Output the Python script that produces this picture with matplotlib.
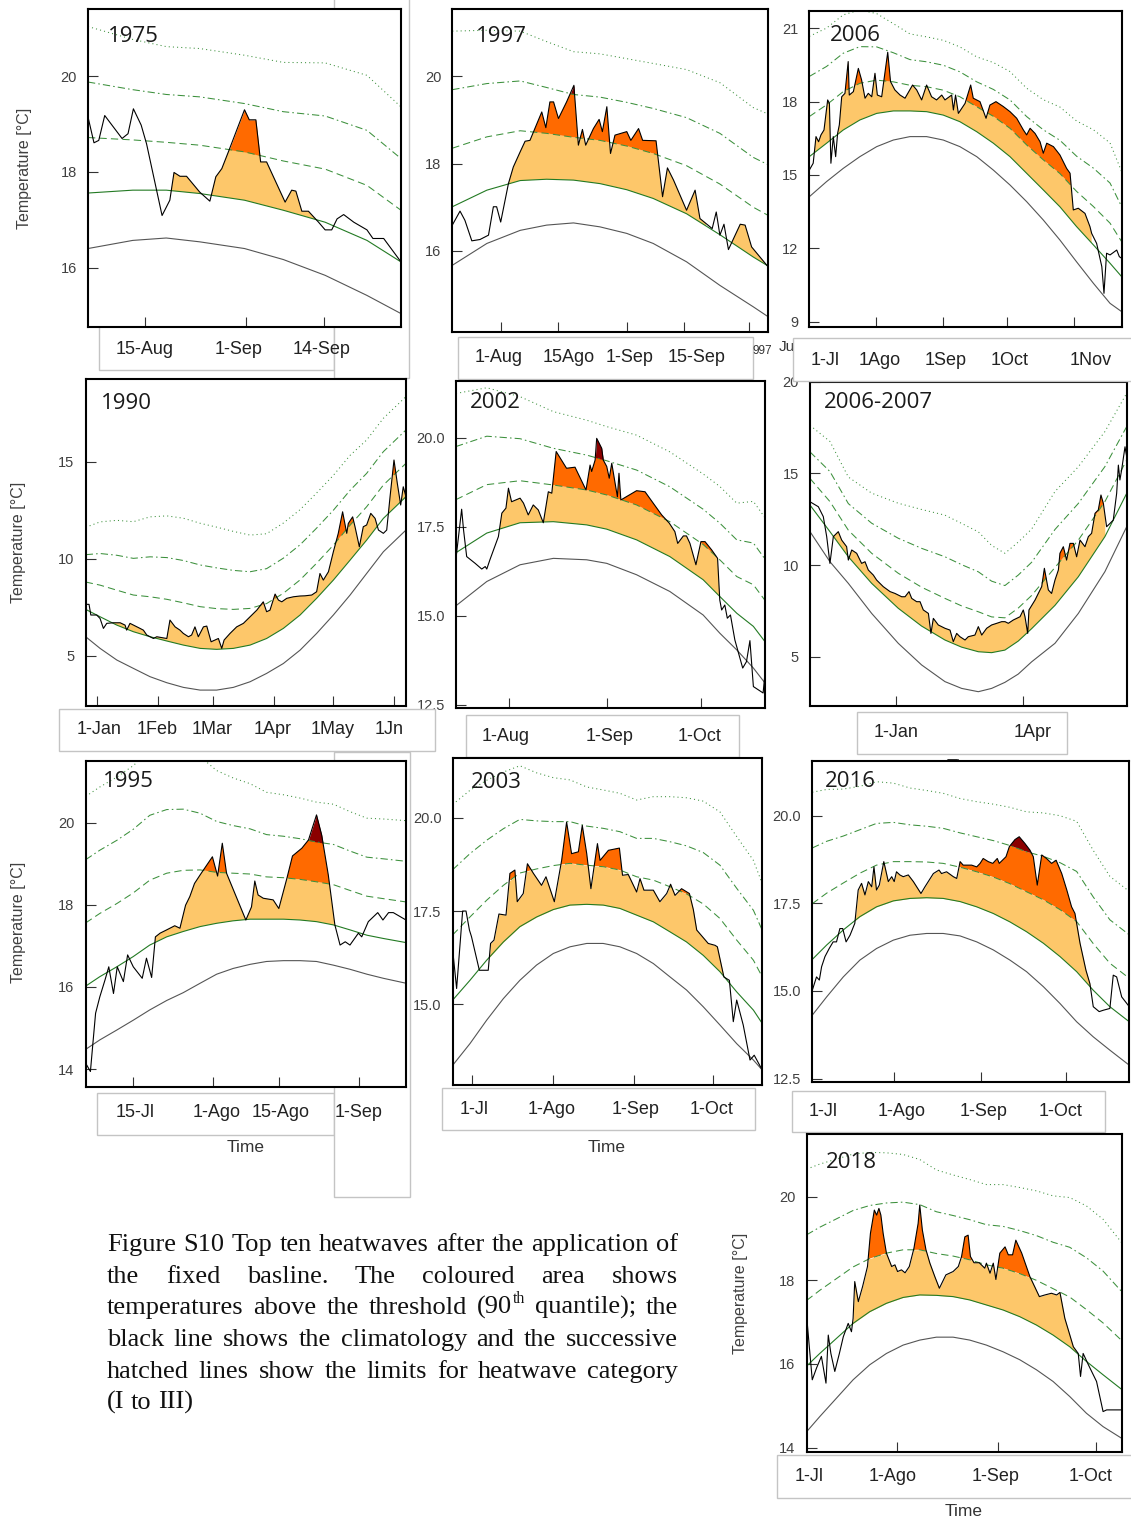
import numpy as np
import matplotlib
matplotlib.use("Agg")
import matplotlib.pyplot as plt
from matplotlib.patches import Rectangle

plt.rcParams["font.family"] = ["Liberation Sans", "DejaVu Sans"]

W, H = 1131, 1521

# ------------------------------------------------------------------ data
# days: day offsets (1975: from 1 Aug; 1990 / 2006-07: from 1 Jan; others: from 1 Jul)
# temp: daily sea temperature, clim: climatology, thresh: 90th percentile threshold

days_1975 = [4.5, 5.5, 6.3, 7.3, 10.2, 11.2, 12.1, 13.4, 14.3, 16.9, 18.2, 18.9, 19.9, 21.0, 23.2,
             24.9, 25.9, 26.9, 28.0, 30.7, 31.5, 32.6, 33.4, 34.4, 37.5, 38.6, 39.3, 40.3, 41.4,
             43.1, 44.2, 45.3, 46.2, 47.3, 49.0, 51.2, 52.2, 54.0, 56.9]
temp_1975 = [19.15, 18.61, 18.66, 19.18, 18.70, 18.80, 19.32, 18.98, 18.59, 17.09, 17.41, 17.99,
             17.91, 17.91, 17.58, 17.39, 17.90, 18.07, 18.42, 19.30, 19.09, 19.09, 18.21, 18.21,
             17.37, 17.62, 17.60, 17.18, 17.18, 16.95, 16.79, 16.79, 17.02, 17.11, 16.95, 16.79,
             16.61, 16.61, 16.12]
kdays_1975 = [4.5, 12.0, 17.6, 23.2, 30.7, 37.2, 44.2, 51.2, 56.9]
clim_1975 = [16.40, 16.57, 16.62, 16.54, 16.40, 16.17, 15.84, 15.42, 15.04]
thresh_1975 = [17.56, 17.62, 17.62, 17.55, 17.41, 17.20, 16.95, 16.57, 16.12]
events_1975 = [(18.0, 43.5)]
xticks_1975 = [14, 31, 44]
xlabels_1975 = ["15-Aug", "1-Sep", "14-Sep"]
yticks_1975 = [16, 18, 20]
ylabels_1975 = ["16", "18", "20"]

days_1997 = [19.1, 21.0, 22.2, 23.9, 25.9, 28.0, 29.2, 30.0, 31.0, 32.9, 34.1, 35.8, 37.0, 38.2,
             39.4, 41.1, 42.1, 43.1, 44.0, 45.2, 47.2, 49.0, 50.1, 51.1, 51.9, 53.8, 55.2, 56.0,
             57.1, 58.0, 59.1, 62.0, 63.0, 64.9, 65.9, 69.2, 70.8, 72.0, 73.5, 76.7, 78.8, 80.0,
             83.0, 84.0, 84.9, 85.9, 87.0, 89.9, 91.1, 92.7, 96.8]
temp_1997 = [16.59, 16.91, 16.70, 16.23, 16.26, 16.36, 17.01, 17.01, 16.66, 17.54, 17.92, 18.27,
             18.51, 18.53, 18.80, 19.18, 18.82, 19.41, 19.41, 19.03, 19.41, 19.79, 18.42, 18.78,
             18.42, 18.80, 19.01, 18.73, 19.30, 18.23, 18.65, 18.73, 18.53, 18.80, 18.53, 18.52,
             17.24, 17.90, 17.62, 16.93, 17.39, 16.74, 16.51, 16.89, 16.36, 16.61, 16.03, 16.61,
             16.59, 16.09, 15.63]
kdays_1997 = [19.1, 27.6, 35.8, 42.3, 48.9, 55.4, 62.0, 68.5, 76.7, 84.9, 93.1, 96.8]
clim_1997 = [15.67, 16.17, 16.47, 16.59, 16.64, 16.55, 16.40, 16.17, 15.75, 15.21, 14.72, 14.49]
thresh_1997 = [17.01, 17.39, 17.61, 17.64, 17.62, 17.54, 17.40, 17.20, 16.85, 16.37, 15.86, 15.65]
events_1997 = [(33.0, 81.5), (87.0, 96.8)]
xticks_1997 = [31, 45, 62, 76, 92]
xlabels_1997 = ["1-Aug", "15Ago", "1-Sep", "15-Sep"]
yticks_1997 = [16, 18, 20]
ylabels_1997 = ["16", "18", "20"]

days_2006 = [0.3, 2.1, 3.4, 4.6, 5.7, 7.1, 8.8, 9.6, 10.3, 11.4, 12.5, 13.4, 14.2, 15.3, 16.8,
             18.3, 18.8, 20.7, 23.0, 24.5, 26.1, 27.6, 29.2, 30.7, 31.8, 33.8, 36.6, 37.9, 39.9,
             42.3, 44.6, 48.1, 50.0, 52.3, 54.6, 56.9, 59.2, 61.6, 63.1, 66.2, 67.0, 68.0, 69.3,
             72.4, 75.0, 76.2, 79.3, 82.1, 83.9, 86.7, 90.1, 93.2, 96.3, 99.4, 100.9, 102.5,
             104.8, 107.1, 108.6, 110.2, 113.3, 116.3, 119.4, 121.0, 122.5, 124.8, 127.9, 130.2,
             131.0, 133.3, 135.7, 136.7, 137.9, 139.5, 142.6, 143.8, 144.9]
temp_2006 = [15.20, 15.48, 16.57, 16.36, 16.64, 16.84, 18.07, 17.93, 15.48, 16.57, 15.75, 16.70,
             17.05, 18.20, 18.34, 19.64, 18.27, 18.41, 19.36, 18.89, 18.14, 18.34, 18.20, 19.16,
             18.27, 18.20, 20.02, 18.82, 18.48, 18.27, 18.14, 18.68, 18.48, 18.07, 18.68, 18.20,
             18.07, 18.27, 18.07, 18.27, 17.66, 18.27, 17.52, 17.93, 18.68, 18.14, 18.00, 17.32,
             17.86, 18.00, 17.80, 17.59, 17.32, 16.84, 16.64, 16.91, 16.70, 16.36, 15.89, 16.30,
             16.16, 15.82, 15.27, 15.07, 13.57, 13.64, 13.43, 12.89, 12.61, 12.20, 11.25, 10.16,
             11.80, 11.73, 11.93, 11.66, 11.59]
kdays_2006 = [0.3, 8.3, 16.0, 23.7, 31.5, 39.2, 46.9, 54.6, 62.3, 70.0, 77.8, 85.5, 93.2, 100.9,
              108.6, 116.3, 124.0, 131.8, 139.5, 144.9]
clim_2006 = [14.11, 14.73, 15.27, 15.75, 16.16, 16.43, 16.57, 16.57, 16.43, 16.16, 15.75, 15.20,
             14.59, 13.91, 13.16, 12.34, 11.45, 10.57, 9.75, 9.41]
thresh_2006 = [15.75, 16.30, 16.84, 17.25, 17.52, 17.62, 17.62, 17.59, 17.45, 17.18, 16.77, 16.30,
               15.75, 15.07, 14.39, 13.70, 12.89, 12.14, 11.39, 10.84]
events_2006 = [(0.5, 131.0)]
xticks_2006 = [31, 62, 92, 123]
xlabels_2006 = ["1-Jl", "1Ago", "1Sep", "1Oct", "1Nov"]
yticks_2006 = [9, 12, 15, 18, 21]
ylabels_2006 = ["9", "12", "15", "18", "21"]

days_1990 = [-5.6, -3.9, -3.0, 0.0, 1.7, 3.4, 5.1, 8.5, 11.9, 14.4, 15.2, 16.9, 22.0, 23.7, 25.4,
             28.8, 30.5, 35.6, 37.2, 39.8, 42.3, 44.0, 46.6, 48.2, 49.9, 51.6, 54.2, 55.9, 58.1,
             61.8, 63.5, 64.7, 67.7, 71.1, 74.5, 77.9, 81.3, 84.6, 86.3, 88.0, 90.6, 92.3, 94.0,
             96.5, 99.9, 103.3, 105.8, 109.2, 111.7, 113.4, 115.1, 117.7, 120.2, 122.7, 124.9,
             127.0, 127.8, 130.0, 131.2, 133.4, 135.4, 137.1, 139.2, 141.4, 143.1, 145.6, 147.3,
             149.0, 151.0, 152.7, 154.4, 155.7, 157.1]
temp_1990 = [7.65, 7.65, 7.10, 7.10, 6.92, 6.41, 6.67, 6.70, 6.70, 6.58, 6.32, 6.67, 6.41, 6.32,
             6.07, 5.89, 5.98, 5.89, 6.84, 6.49, 6.32, 6.15, 5.98, 6.07, 6.49, 5.98, 6.49, 6.53,
             5.72, 5.89, 5.38, 5.81, 6.15, 6.49, 6.67, 7.01, 7.35, 7.78, 7.27, 7.35, 8.18, 7.87,
             7.78, 7.96, 8.04, 8.08, 8.09, 8.13, 8.30, 9.24, 8.90, 9.33, 10.36, 11.31, 12.42,
             11.31, 11.82, 12.16, 11.65, 10.62, 11.65, 11.74, 12.34, 12.08, 11.48, 11.31, 11.48,
             13.20, 15.09, 13.88, 12.77, 13.71, 13.20]
kdays_1990 = [-5.6, 1.7, 10.2, 18.6, 27.1, 35.6, 44.0, 52.5, 60.9, 69.4, 77.9, 86.3, 94.8, 103.3,
              111.7, 120.2, 128.7, 137.1, 145.6, 157.1]
clim_1990 = [5.98, 5.38, 4.78, 4.35, 3.92, 3.61, 3.37, 3.23, 3.23, 3.37, 3.66, 4.09, 4.60, 5.29,
             6.15, 7.10, 8.13, 9.24, 10.36, 11.48]
thresh_1990 = [7.39, 7.01, 6.58, 6.24, 5.98, 5.76, 5.55, 5.38, 5.33, 5.38, 5.55, 5.89, 6.41, 7.10,
               7.96, 8.90, 9.93, 10.96, 12.08, 13.20]
events_1990 = [(7.0, 157.1)]
xticks_1990 = [0, 31, 59, 90, 120, 151]
xlabels_1990 = ["1-Jan", "1Feb", "1Mar", "1Apr", "1May", "1Jn"]
yticks_1990 = [5, 10, 15]
ylabels_1990 = ["5", "10", "15"]

days_2002 = [14.0, 15.8, 16.4, 17.4, 20.1, 22.2, 23.3, 23.8, 24.8, 27.5, 28.6, 29.9, 30.7, 31.7,
             34.4, 35.5, 37.0, 38.6, 40.2, 41.8, 43.4, 44.5, 45.9, 49.2, 51.9, 55.4, 56.7, 57.2,
             58.3, 58.8, 60.4, 60.9, 62.0, 62.8, 63.6, 64.4, 65.4, 65.9, 66.5, 71.5, 74.2, 76.8,
             79.5, 81.9, 83.7, 84.6, 86.4, 87.4, 88.5, 90.4, 92.0, 93.3, 95.4, 97.3, 98.0, 98.6,
             99.6, 100.4, 101.4, 102.8, 105.3, 106.5, 107.6, 108.7, 111.8, 112.4]
temp_2002 = [16.61, 17.99, 17.41, 16.66, 16.47, 16.31, 16.38, 16.31, 16.57, 17.22, 17.88, 18.02,
             18.58, 18.20, 18.30, 18.16, 17.83, 18.11, 17.97, 17.61, 18.48, 18.44, 19.61, 19.14,
             19.17, 18.53, 19.23, 19.05, 19.37, 19.98, 19.70, 19.37, 19.19, 18.86, 19.28, 18.86,
             18.34, 19.00, 18.25, 18.51, 18.48, 18.16, 17.83, 17.60, 17.36, 17.03, 17.24, 17.24,
             17.03, 16.43, 17.08, 17.08, 16.85, 16.61, 15.44, 15.16, 15.30, 14.93, 15.02, 14.32,
             13.53, 13.71, 14.30, 13.01, 12.83, 13.39]
kdays_2002 = [14.0, 23.8, 34.4, 45.0, 55.6, 62.0, 71.5, 82.1, 92.7, 98.0, 103.4, 108.7, 112.4]
clim_2002 = [15.28, 15.96, 16.43, 16.61, 16.57, 16.47, 16.15, 15.68, 15.02, 14.51, 14.04, 13.53, 13.11]
thresh_2002 = [16.77, 17.32, 17.61, 17.64, 17.55, 17.43, 17.13, 16.66, 16.01, 15.54, 15.07, 14.70, 14.27]
events_2002 = [(28.0, 98.0)]
xticks_2002 = [31, 62, 92]
xlabels_2002 = ["1-Aug", "1-Sep", "1-Oct"]
yticks_2002 = [12.5, 15.0, 17.5, 20.0]
ylabels_2002 = ["12.5", "15.0", "17.5", "20.0"]

days_0607 = [-60.8, -54.9, -51.4, -49.0, -46.7, -44.3, -40.8, -38.4, -34.9, -33.7, -31.3, -27.8,
             -24.3, -21.9, -19.6, -16.0, -13.7, -9.0, -4.2, -0.7, 4.0, 6.4, 9.2, 11.1, 14.6, 17.0,
             19.3, 22.9, 24.7, 26.4, 29.9, 34.6, 38.2, 40.5, 42.9, 45.2, 48.8, 51.1, 55.8, 58.2,
             60.6, 64.1, 67.6, 71.2, 74.7, 77.1, 79.4, 82.9, 85.3, 87.7, 90.0, 91.2, 93.1, 94.0,
             98.3, 100.6, 103.0, 104.9, 107.7, 110.0, 112.4, 114.8, 115.9, 118.3, 120.6, 123.0,
             125.4, 127.7, 130.1, 133.6, 136.0, 138.3, 140.7, 143.0, 144.9, 146.6, 148.9, 151.3,
             153.6, 156.0, 157.2, 158.3, 159.5, 161.9, 163.1]
temp_0607 = [13.45, 13.18, 12.64, 11.55, 10.09, 11.55, 11.82, 11.36, 11.00, 10.27, 10.82, 10.64,
             10.09, 10.18, 9.73, 9.45, 9.18, 8.82, 8.55, 8.45, 8.27, 8.27, 8.55, 8.18, 8.00, 8.00,
             7.55, 7.36, 6.27, 7.09, 6.73, 6.55, 6.45, 5.82, 6.27, 6.09, 5.91, 6.09, 6.18, 6.64,
             6.18, 6.55, 6.73, 6.82, 6.91, 6.91, 6.82, 7.00, 7.09, 7.18, 7.55, 7.18, 6.27, 7.55,
             8.09, 8.45, 8.82, 9.82, 8.64, 8.45, 9.18, 9.73, 10.64, 11.00, 10.27, 11.18, 11.18,
             10.45, 11.36, 11.00, 11.55, 11.73, 12.82, 13.00, 13.82, 13.36, 12.09, 12.27, 12.45,
             13.91, 15.45, 14.64, 15.18, 16.45, 15.91]
kdays_0607 = [-60.8, -46.7, -33.7, -17.2, 1.6, 18.1, 34.6, 46.4, 58.2, 67.6, 77.0, 86.4, 95.9,
              112.4, 128.9, 147.7, 163.1]
clim_0607 = [11.82, 10.18, 9.00, 7.36, 5.73, 4.55, 3.64, 3.27, 3.09, 3.27, 3.60, 4.05, 4.72,
             5.73, 7.36, 9.64, 12.09]
thresh_0607 = [13.27, 11.82, 10.45, 9.00, 7.64, 6.67, 5.91, 5.52, 5.27, 5.22, 5.36, 5.85, 6.53,
               7.80, 9.36, 11.55, 13.91]
events_0607 = [(-45.5, 148.0)]
xticks_0607 = [0, 90]
xlabels_0607 = ["1-Jan", "1Apr"]
yticks_0607 = [5, 10, 15, 20]
ylabels_0607 = ["5", "10", "15", "20"]

days_1995 = [3.9, 4.9, 5.4, 6.0, 6.9, 8.0, 8.8, 9.8, 10.6, 11.9, 12.8, 14.0, 15.9, 16.8, 17.9,
             18.7, 19.7, 21.1, 22.8, 23.9, 25.1, 26.0, 27.0, 28.2, 30.8, 31.9, 32.9, 33.8, 37.9,
             39.1, 39.8, 40.5, 41.6, 43.7, 44.9, 46.6, 47.8, 49.8, 51.2, 52.9, 54.0, 55.4, 56.8,
             57.9, 59.0, 60.0, 61.8, 62.5, 63.9, 65.9, 67.0, 68.2, 69.2, 71.9]
temp_1995 = [14.14, 13.94, 14.59, 15.36, 15.76, 16.17, 16.49, 15.84, 16.49, 16.13, 16.78, 16.49,
             16.21, 16.70, 16.23, 17.22, 17.31, 17.39, 17.49, 17.43, 17.99, 18.20, 18.52, 18.73,
             19.17, 18.70, 19.50, 18.77, 17.63, 17.95, 18.58, 18.24, 18.16, 18.12, 17.91, 18.64,
             19.19, 19.38, 19.58, 20.19, 19.70, 18.73, 17.51, 17.02, 17.10, 17.02, 17.31, 17.22,
             17.59, 17.81, 17.63, 17.81, 17.81, 17.63]
kdays_1995 = [3.9, 6.9, 10.5, 14.0, 17.5, 21.1, 24.6, 28.2, 31.7, 35.2, 38.8, 42.3, 45.9, 49.4,
              52.9, 56.5, 60.0, 63.6, 67.1, 71.9]
clim_1995 = [14.48, 14.71, 14.95, 15.19, 15.44, 15.67, 15.86, 16.09, 16.31, 16.45, 16.55, 16.62,
             16.64, 16.64, 16.62, 16.53, 16.43, 16.31, 16.21, 16.09]
thresh_1995 = [16.02, 16.25, 16.49, 16.74, 17.02, 17.22, 17.35, 17.47, 17.55, 17.61, 17.65, 17.65,
               17.65, 17.63, 17.59, 17.51, 17.39, 17.26, 17.18, 17.08]
events_1995 = [(18.5, 57.0)]
xticks_1995 = [14, 31, 45, 62]
xlabels_1995 = ["15-Jl", "1-Ago", "15-Ago", "1-Sep"]
yticks_1995 = [14, 16, 18, 20]
ylabels_1995 = ["14", "16", "18", "20"]

days_2003 = [-7.5, -6.0, -3.7, -2.4, -1.1, -0.3, 2.7, 6.1, 7.0, 8.3, 10.2, 12.9, 14.4, 16.3, 17.2,
             19.5, 21.1, 23.4, 26.5, 28.2, 31.4, 34.2, 36.1, 38.0, 40.6, 42.1, 43.8, 45.4, 47.9,
             48.9, 52.1, 56.3, 57.5, 59.7, 62.9, 64.2, 65.7, 69.3, 71.8, 74.4, 75.9, 77.6, 80.1,
             83.1, 84.6, 85.9, 90.3, 92.9, 93.8, 96.3, 98.4, 99.9, 101.2, 103.7, 106.3, 107.9, 111.0]
temp_2003 = [16.45, 15.42, 17.50, 17.50, 16.99, 16.81, 15.91, 15.91, 16.63, 16.72, 17.42, 17.39,
             18.51, 18.60, 17.75, 17.97, 18.77, 18.51, 18.19, 18.42, 17.75, 18.86, 19.89, 19.04,
             19.09, 19.80, 19.04, 18.10, 19.31, 18.86, 19.13, 19.19, 18.46, 18.48, 18.01, 18.37,
             18.06, 18.06, 17.75, 17.97, 18.22, 17.92, 18.10, 17.97, 17.54, 16.99, 16.63, 16.58,
             16.54, 15.73, 15.64, 14.53, 15.11, 14.44, 13.50, 13.63, 13.23]
kdays_2003 = [-7.5, -0.9, 5.5, 11.9, 18.2, 24.6, 31.0, 37.4, 43.8, 50.1, 56.5, 62.9, 69.3, 75.7,
              82.0, 88.4, 94.8, 101.2, 107.6, 111.0]
clim_2003 = [13.36, 13.94, 14.57, 15.15, 15.64, 16.05, 16.36, 16.54, 16.63, 16.63, 16.54, 16.36,
             16.09, 15.73, 15.38, 14.93, 14.44, 13.94, 13.50, 13.23]
thresh_2003 = [15.11, 15.64, 16.18, 16.67, 17.08, 17.34, 17.54, 17.66, 17.68, 17.66, 17.57, 17.39,
               17.21, 16.94, 16.67, 16.31, 15.87, 15.33, 14.84, 14.48]
events_2003 = [(6.5, 96.5)]
xticks_2003 = [0, 31, 62, 92]
xlabels_2003 = ["1-Jl", "1-Ago", "1-Sep", "1-Oct"]
yticks_2003 = [15.0, 17.5, 20.0]
ylabels_2003 = ["15.0", "17.5", "20.0"]

days_2016 = [2.0, 3.5, 4.5, 5.3, 6.5, 8.0, 9.4, 10.6, 11.8, 12.8, 14.0, 15.4, 17.1, 18.3, 19.5,
             20.7, 21.9, 23.1, 23.9, 24.8, 25.8, 27.4, 29.0, 30.2, 31.1, 31.9, 33.1, 34.3, 36.1,
             37.9, 40.6, 42.0, 45.0, 47.0, 47.9, 49.7, 52.1, 53.3, 54.5, 55.6, 58.6, 60.4, 61.6,
             62.7, 64.5, 66.1, 67.7, 68.4, 70.8, 72.0, 74.0, 75.5, 77.5, 79.3, 80.5, 81.9, 83.5,
             85.2, 87.0, 88.6, 90.6, 92.4, 94.1, 95.3, 97.1, 99.2, 100.6, 101.8, 103.9, 105.4,
             107.7, 108.9, 110.1, 111.9, 114.6]
temp_2016 = [15.02, 15.40, 15.31, 15.69, 15.98, 16.21, 16.40, 16.40, 16.78, 16.78, 16.40, 16.59,
             16.93, 17.88, 18.07, 17.74, 18.12, 17.97, 18.54, 17.88, 18.02, 18.69, 18.12, 18.26,
             18.12, 18.40, 18.31, 18.26, 18.31, 18.12, 17.78, 17.97, 18.35, 18.45, 18.35, 18.40,
             18.26, 18.21, 18.69, 18.59, 18.59, 18.54, 18.64, 18.78, 18.69, 18.64, 18.78, 18.64,
             18.83, 19.12, 19.32, 19.40, 19.21, 19.02, 18.83, 18.02, 18.88, 18.78, 18.64, 18.73,
             18.35, 17.88, 17.40, 17.21, 16.36, 15.59, 15.21, 14.55, 14.41, 14.45, 14.50, 15.45,
             15.40, 14.83, 14.55]
kdays_2016 = [2.0, 7.1, 13.0, 18.9, 24.8, 30.8, 36.7, 42.6, 48.5, 54.5, 60.4, 66.3, 72.2, 78.1,
              84.1, 90.0, 95.9, 101.8, 107.7, 114.6]
clim_2016 = [14.31, 14.83, 15.40, 15.88, 16.21, 16.45, 16.59, 16.64, 16.64, 16.57, 16.40, 16.17,
             15.88, 15.55, 15.12, 14.64, 14.12, 13.69, 13.31, 12.88]
thresh_2016 = [15.90, 16.31, 16.74, 17.12, 17.40, 17.57, 17.64, 17.66, 17.64, 17.55, 17.40, 17.21,
               16.97, 16.69, 16.36, 15.98, 15.55, 15.02, 14.55, 14.12]
events_2016 = [(17.0, 101.0)]
xticks_2016 = [31, 62, 92]
xlabels_2016 = ["1-Jl", "1-Ago", "1-Sep", "1-Oct"]
yticks_2016 = [12.5, 15.0, 17.5, 20.0]
ylabels_2016 = ["12.5", "15.0", "17.5", "20.0"]

days_2018 = [3.5, 4.3, 5.2, 6.5, 8.0, 9.4, 10.1, 10.9, 12.1, 13.5, 14.7, 16.2, 17.2, 17.7, 18.2,
             19.3, 20.6, 22.1, 23.0, 24.2, 24.9, 25.6, 26.2, 26.9, 27.9, 29.5, 30.5, 31.3, 32.5,
             33.6, 34.9, 36.3, 37.6, 38.1, 38.9, 40.0, 41.2, 42.7, 44.1, 46.1, 48.3, 49.9, 50.9,
             51.9, 52.9, 53.6, 54.7, 56.3, 58.0, 58.5, 59.6, 60.6, 61.4, 62.6, 64.2, 65.2, 66.5,
             67.5, 69.3, 71.8, 74.7, 76.4, 78.4, 80.0, 81.0, 82.5, 85.1, 86.6, 87.3, 88.1, 89.7,
             92.2, 94.2, 95.3, 99.9]
temp_2018 = [17.13, 16.41, 15.62, 15.90, 16.18, 15.54, 16.69, 16.25, 15.82, 16.25, 16.65, 16.97,
             16.77, 17.09, 17.97, 17.49, 17.85, 18.33, 19.12, 19.68, 19.56, 19.72, 19.56, 19.12,
             18.65, 18.33, 18.37, 18.21, 18.25, 18.18, 18.33, 18.76, 19.36, 19.80, 19.20, 18.73,
             18.41, 18.09, 17.81, 18.13, 18.21, 18.33, 18.57, 19.04, 19.08, 18.57, 18.42, 18.42,
             18.29, 18.41, 18.17, 18.41, 18.02, 18.65, 18.80, 18.61, 18.61, 18.96, 18.65, 18.09,
             17.61, 17.65, 17.69, 17.65, 17.71, 17.09, 16.41, 16.25, 15.70, 16.25, 15.98, 15.58,
             14.86, 14.90, 14.90]
kdays_2018 = [3.5, 7.5, 12.6, 17.7, 22.8, 27.9, 33.0, 38.1, 43.2, 48.3, 53.4, 58.5, 63.6, 68.7,
              73.8, 78.9, 84.0, 89.1, 94.2, 99.9]
clim_2018 = [14.38, 14.74, 15.18, 15.62, 15.98, 16.25, 16.45, 16.57, 16.64, 16.64, 16.57, 16.45,
             16.29, 16.10, 15.86, 15.58, 15.22, 14.82, 14.50, 14.22]
thresh_2018 = [15.95, 16.25, 16.61, 16.97, 17.25, 17.45, 17.59, 17.65, 17.64, 17.61, 17.53, 17.41,
               17.29, 17.13, 16.93, 16.69, 16.41, 16.06, 15.74, 15.39]
events_2018 = [(17.0, 85.9)]
xticks_2018 = [31, 62, 92]
xlabels_2018 = ["1-Jl", "1-Ago", "1-Sep", "1-Oct"]
yticks_2018 = [14, 16, 18, 20]
ylabels_2018 = ["14", "16", "18", "20"]

caption_lines = [
    "Figure S10 Top ten heatwaves after the application of",
    "the fixed basline. The coloured area shows",
    "temperatures above the threshold (90^th quantile); the",
    "black line shows the climatology and the successive",
    "hatched lines show the limits for heatwave category",
    "(I to III)",
]

# ------------------------------------------------------------------ style
FILL_COLORS = ["#fdc76a", "#ff6a00", "#8b0000"]
CLIM_C = "#555555"
THR_C = "#237a23"
CAT_C = "#3c903c"
CAT_STYLES = [(0, (7, 4)), (0, (7, 3, 1.5, 3)), (0, (1, 3))]

# panel layout in pixels: (left, top, right, bottom)
PANELS = [
    dict(title="1975", days=days_1975, temp=temp_1975, kd=kdays_1975, clim=clim_1975,
         thr=thresh_1975, events=events_1975, xticks=xticks_1975, xlabels=xlabels_1975,
         yticks=yticks_1975, ylabels=ylabels_1975,
         box=(88, 9.3, 401, 327), xlim=(4.5, 56.9), ylim=(14.76, 21.40),
         toff=(20, 27), loff=23, lpos=[14.0, 29.7, 43.6]),
    dict(title="1997", days=days_1997, temp=temp_1997, kd=kdays_1997, clim=clim_1997,
         thr=thresh_1997, events=events_1997, xticks=xticks_1997, xlabels=xlabels_1997,
         yticks=yticks_1997, ylabels=ylabels_1997,
         box=(452.3, 9.3, 768.3, 331.7), xlim=(19.1, 96.8), ylim=(14.15, 21.53),
         toff=(24, 27), loff=26, lpos=[30.4, 47.6, 62.6, 79.2]),
    dict(title="2006", days=days_2006, temp=temp_2006, kd=kdays_2006, clim=clim_2006,
         thr=thresh_2006, events=events_2006, xticks=xticks_2006, xlabels=xlabels_2006,
         yticks=yticks_2006, ylabels=ylabels_2006,
         box=(809.3, 10.7, 1121.7, 327.3), xlim=(0.3, 144.9), ylim=(8.77, 21.72),
         toff=(21, 25), loff=33, lpos=[7.5, 32.7, 63.6, 93.2, 130.5]),
    dict(title="1990", days=days_1990, temp=temp_1990, kd=kdays_1990, clim=clim_1990,
         thr=thresh_1990, events=events_1990, xticks=xticks_1990, xlabels=xlabels_1990,
         yticks=yticks_1990, ylabels=ylabels_1990,
         box=(85.7, 379.3, 406, 706), xlim=(-5.6, 157.1), ylim=(2.41, 19.25),
         toff=(15, 24), loff=24, lpos=[1.4, 30.8, 58.7, 89.4, 119.9, 148.6]),
    dict(title="2002", days=days_2002, temp=temp_2002, kd=kdays_2002, clim=clim_2002,
         thr=thresh_2002, events=events_2002, xticks=xticks_2002, xlabels=xlabels_2002,
         yticks=yticks_2002, ylabels=ylabels_2002,
         box=(456, 381, 765, 708.3), xlim=(14.0, 112.4), ylim=(12.40, 21.59),
         toff=(14, 22), loff=28, lpos=[29.9, 62.8, 91.5]),
    dict(title="2006-2007", days=days_0607, temp=temp_0607, kd=kdays_0607, clim=clim_0607,
         thr=thresh_0607, events=events_0607, xticks=xticks_0607, xlabels=xlabels_0607,
         yticks=yticks_0607, ylabels=ylabels_0607,
         box=(810, 381.7, 1126.7, 706), xlim=(-60.8, 163.1), ylim=(2.31, 20.0),
         toff=(14, 21), loff=27, lpos=[0.0, 96.6]),
    dict(title="1995", days=days_1995, temp=temp_1995, kd=kdays_1995, clim=clim_1995,
         thr=thresh_1995, events=events_1995, xticks=xticks_1995, xlabels=xlabels_1995,
         yticks=yticks_1995, ylabels=ylabels_1995,
         box=(85.7, 760.7, 406, 1086.7), xlim=(3.9, 71.9), ylim=(13.57, 21.51),
         toff=(17, 21), loff=26, lpos=[14.4, 31.8, 45.3, 61.8]),
    dict(title="2003", days=days_2003, temp=temp_2003, kd=kdays_2003, clim=clim_2003,
         thr=thresh_2003, events=events_2003, xticks=xticks_2003, xlabels=xlabels_2003,
         yticks=yticks_2003, ylabels=ylabels_2003,
         box=(452.7, 758.3, 762.3, 1085), xlim=(-7.5, 111.0), ylim=(12.83, 21.60),
         toff=(18, 24), loff=25, lpos=[0.6, 30.4, 62.3, 91.6]),
    dict(title="2016", days=days_2016, temp=temp_2016, kd=kdays_2016, clim=clim_2016,
         thr=thresh_2016, events=events_2016, xticks=xticks_2016, xlabels=xlabels_2016,
         yticks=yticks_2016, ylabels=ylabels_2016,
         box=(812.3, 760.7, 1129.3, 1081.7), xlim=(2.0, 114.6), ylim=(12.41, 21.57),
         toff=(13, 21), loff=30, lpos=[5.9, 33.7, 63.0, 90.2]),
    dict(title="2018", days=days_2018, temp=temp_2018, kd=kdays_2018, clim=clim_2018,
         thr=thresh_2018, events=events_2018, xticks=xticks_2018, xlabels=xlabels_2018,
         yticks=yticks_2018, ylabels=ylabels_2018,
         box=(806.7, 1134, 1121.7, 1451.7), xlim=(3.5, 99.9), ylim=(13.90, 21.50),
         toff=(19, 28), loff=25, lpos=[4.3, 29.8, 61.4, 90.5]),
]

# framed label strips (left, top, right, bottom, zorder)
FRAMES = [
    (99, 300, 334, 370, -1), (334, -5, 409, 378, -1), (458, 337, 753, 379, -1),
    (793, 338, 1135, 381, 0.5), (59, 709, 435, 751, 0.5), (466, 715, 739, 757, -1),
    (857, 712, 1067, 754, -1), (97, 1093, 334, 1135, -1), (334, 752, 410, 1197, -1),
    (442, 1088, 755, 1130, -1), (792, 1091, 1105, 1132, -1), (777, 1455, 1135, 1498, -1),
]

fig = plt.figure(figsize=(W / 100, H / 100), dpi=100)
fig.patch.set_facecolor("white")


def fx(px):
    return px / W


def fy(py):
    return 1 - py / H


for (l, t, r, b, z) in FRAMES:
    fig.add_artist(Rectangle((fx(l), fy(b)), (r - l) / W, (b - t) / H, transform=fig.transFigure,
                             facecolor="white", edgecolor="#c4c4c4", lw=1.0, zorder=z))


def draw_panel(p):
    x0, y0, x1, y1 = p["box"]
    ax = fig.add_axes([fx(x0), fy(y1), (x1 - x0) / W, (y1 - y0) / H])
    ax.set_facecolor("white")
    kd = np.asarray(p["kd"], float)
    clim = np.asarray(p["clim"], float)
    thr = np.asarray(p["thr"], float)
    step = thr - clim
    days = np.asarray(p["days"], float)
    temp = np.asarray(p["temp"], float)

    # shaded exceedance by category, only inside each heatwave event
    grid = np.linspace(days[0], days[-1], 6000)
    t_g = np.interp(grid, days, temp)
    base_g = np.interp(grid, kd, thr)
    step_g = np.interp(grid, kd, step)
    active = np.zeros(grid.shape, bool)
    for s, e in p["events"]:
        active |= (grid >= s) & (grid <= e)
    for n, col in enumerate(FILL_COLORS):
        lo = base_g + n * step_g
        hi = lo + step_g
        ax.fill_between(grid, lo, np.minimum(t_g, hi), where=active & (t_g > lo),
                        color=col, lw=0, zorder=1)

    ax.plot(kd, clim, color=CLIM_C, lw=0.8, zorder=2)
    ax.plot(kd, thr, color=THR_C, lw=0.8, zorder=2)
    for n, ls in zip((2, 3, 4), CAT_STYLES):
        ax.plot(kd, clim + n * step, color=CAT_C, lw=0.75, ls=ls, zorder=2)
    ax.plot(days, temp, color="black", lw=0.8, zorder=3)

    ax.set_xlim(*p["xlim"])
    ax.set_ylim(*p["ylim"])
    ax.set_xticks(p["xticks"])
    ax.set_xticklabels([])
    ax.set_yticks(p["yticks"])
    ax.set_yticklabels(p["ylabels"])
    ax.tick_params(direction="in", length=7, width=0.8, color="#333333")
    ax.tick_params(axis="y", labelsize=10.5, labelcolor="#404040", pad=8)
    for sp in ax.spines.values():
        sp.set_linewidth(1.5)
        sp.set_color("black")

    yb = y1 + p["loff"]
    for d, s in zip(p["lpos"], p["xlabels"]):
        xp = ax.transData.transform((d, p["ylim"][0]))[0]
        fig.text(xp / W, fy(yb), s, ha="center", va="center", fontsize=13,
                 color="#222222", zorder=5)

    dx, dy = p["toff"]
    fig.text(fx(x0 + dx), fy(y0 + dy), p["title"], ha="left", va="center", fontsize=16,
             family=["Open Sans", "DejaVu Sans"], color="#1a1a1a", zorder=5)
    return ax


for p in PANELS:
    draw_panel(p)

# axis titles
for (x, y) in [(25, 168), (19, 542), (19, 922), (741, 1293)]:
    fig.text(fx(x), fy(y), "Temperature [°C]", rotation=90, ha="center", va="center",
             fontsize=11.5, color="#404040", zorder=5)
for (x, y) in [(246, 1147), (607, 1147), (964, 1511)]:
    fig.text(fx(x), fy(y), "Time", ha="center", va="center", fontsize=12.5,
             color="#333333", zorder=5)
fig.text(fx(966), fy(766), "Time", ha="center", va="center", fontsize=12.5,
         color="#333333", zorder=-2)
fig.text(fx(753), fy(351), "997", ha="left", va="center", fontsize=8.5, color="#333333", zorder=0.4)
fig.text(fx(779), fy(347), "Ju", ha="left", va="center", fontsize=11, color="#333333", zorder=0.4)

# justified caption
renderer = fig.canvas.get_renderer()
CAP_FS = 19
CAP_FAMILY = ["Liberation Serif", "DejaVu Serif"]
x_left, x_right = 107, 678
baselines = [1251, 1283, 1314, 1346, 1378, 1409]


def make_word(word):
    parts = word.split("^")
    arts = [fig.text(0, 0, parts[0], fontsize=CAP_FS, family=CAP_FAMILY, va="baseline",
                     color="#111111")]
    if len(parts) > 1:
        sup = fig.text(0, 0, parts[1], fontsize=CAP_FS * 0.6, family=CAP_FAMILY,
                       va="baseline", color="#111111")
        arts.append(sup)
    widths = [a.get_window_extent(renderer).width for a in arts]
    return arts, widths


space_px = CAP_FS * 0.25 * 100 / 72
for i, (line, yb) in enumerate(zip(caption_lines, baselines)):
    words = [make_word(w) for w in line.split(" ")]
    total = sum(sum(wd) for _, wd in words)
    if i < len(caption_lines) - 1 and len(words) > 1:
        gap = (x_right - x_left - total) / (len(words) - 1)
    else:
        gap = space_px
    x = x_left
    for arts, wds in words:
        arts[0].set_position((fx(x), fy(yb)))
        if len(arts) > 1:
            arts[1].set_position((fx(x + wds[0]), fy(yb - CAP_FS * 0.42 * 100 / 72)))
        x += sum(wds) + gap

fig.savefig("out.png", dpi=100, facecolor="white")
